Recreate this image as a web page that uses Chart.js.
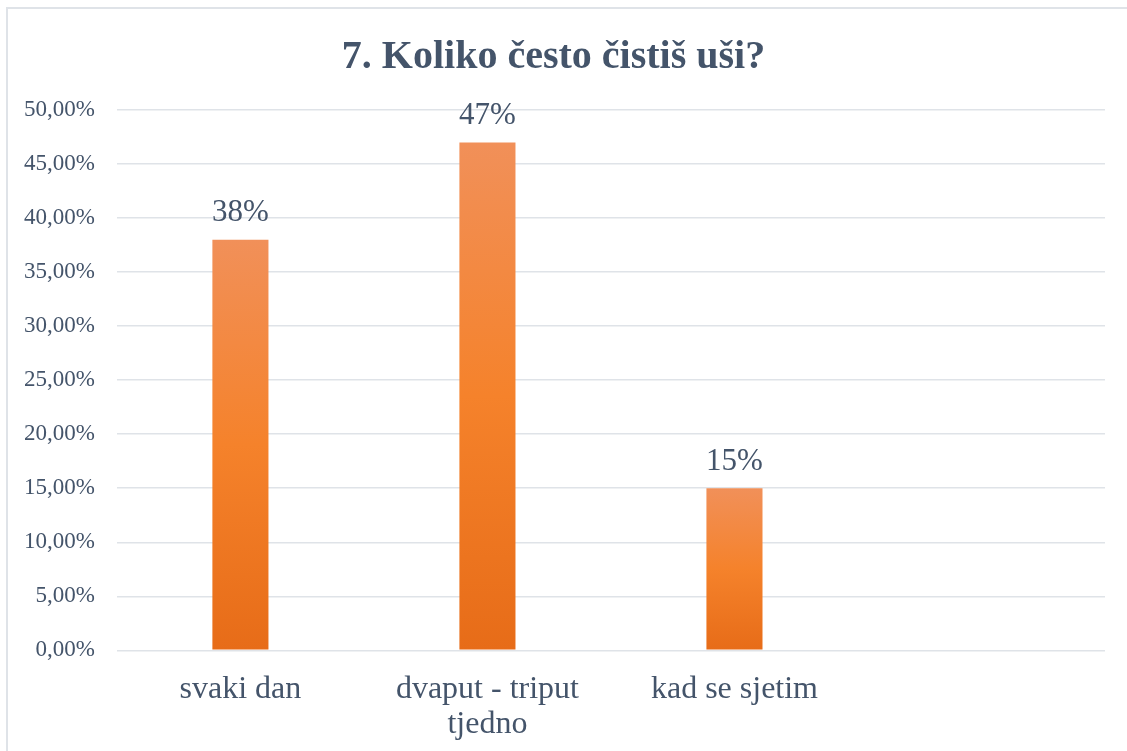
<!DOCTYPE html>
<html>
<head>
<meta charset="utf-8">
<script src="https://cdn.jsdelivr.net/npm/chart.js@4.4.1/dist/chart.umd.min.js"></script>
<style>
    body { margin: 0; background: #ffffff; }
    #wrap { position: absolute; left: 0; top: 0; width: 1127px; height: 751px; }
</style>
</head>
<body>
<div id="wrap"><canvas id="barChart" width="1127" height="751"></canvas></div>
<script>
// Chart data
const categories = ['svaki dan', ['dvaput - triput', 'tjedno'], 'kad se sjetim', ''];
const shares = [38, 47, 15, null];
const valueLabels = ['38%', '47%', '15%', ''];

const textColor = '#44546a';
const serif = '"Liberation Serif", "Times New Roman", serif';

// Orange gradient from bar top to bar bottom
function barGradient(context) {
    const chart = context.chart;
    const v = context.raw;
    if (!chart.chartArea || v == null) return '#f07f2c';
    const y = chart.scales.y;
    const top = y.getPixelForValue(v);
    const bottom = y.getPixelForValue(0);
    const g = chart.ctx.createLinearGradient(0, top, 0, bottom);
    g.addColorStop(0, '#f19059');
    g.addColorStop(0.5, '#f5822b');
    g.addColorStop(1, '#e76c18');
    return g;
}

// Outer frame around the chart
const framePlugin = {
    id: 'frame',
    beforeDraw(chart) {
        const c = chart.ctx;
        c.save();
        c.fillStyle = '#ffffff';
        c.fillRect(0, 0, chart.width, chart.height);
        c.strokeStyle = '#dfe3e8';
        c.lineWidth = 2;
        c.strokeRect(7, 8, chart.width + 10, chart.height + 10);
        c.restore();
    }
};

// Value labels above the bars
const valueLabelPlugin = {
    id: 'valueLabels',
    afterDatasetsDraw(chart) {
        const c = chart.ctx;
        const meta = chart.getDatasetMeta(0);
        c.save();
        c.font = '31px ' + serif;
        c.fillStyle = textColor;
        c.textAlign = 'center';
        c.textBaseline = 'bottom';
        meta.data.forEach((bar, i) => {
            if (!valueLabels[i]) return;
            c.fillText(valueLabels[i], bar.x, bar.y - 11);
        });
        c.restore();
    }
};

const ctx = document.getElementById('barChart').getContext('2d');
const barChart = new Chart(ctx, {
    type: 'bar',
    data: {
        labels: categories,
        datasets: [{
            data: shares,
            backgroundColor: barGradient,
            borderWidth: 0,
            barPercentage: 0.227,
            categoryPercentage: 1
        }]
    },
    options: {
        responsive: false,
        animation: false,
        layout: { padding: { left: 2, right: 22, top: 10, bottom: -5 } },
        plugins: {
            legend: { display: false },
            tooltip: { enabled: false },
            title: {
                display: true,
                text: '7. Koliko često čistiš uši?',
                color: textColor,
                font: { family: serif, size: 40, weight: 'bold' },
                padding: { top: 24, bottom: 28 }
            }
        },
        scales: {
            x: {
                grid: { display: false },
                border: { display: false },
                ticks: {
                    color: textColor,
                    font: { family: serif, size: 32, lineHeight: 1.12 },
                    padding: 13,
                    maxRotation: 0
                }
            },
            y: {
                min: 0,
                max: 50,
                grid: { color: '#dfe3e8', lineWidth: 1.5, drawTicks: false },
                border: { display: false },
                ticks: {
                    stepSize: 5,
                    color: textColor,
                    padding: 22,
                    font: { family: serif, size: 23 },
                    callback: v => v.toFixed(2).replace('.', ',') + '%'
                }
            }
        }
    },
    plugins: [framePlugin, valueLabelPlugin]
});
</script>
</body>
</html>
